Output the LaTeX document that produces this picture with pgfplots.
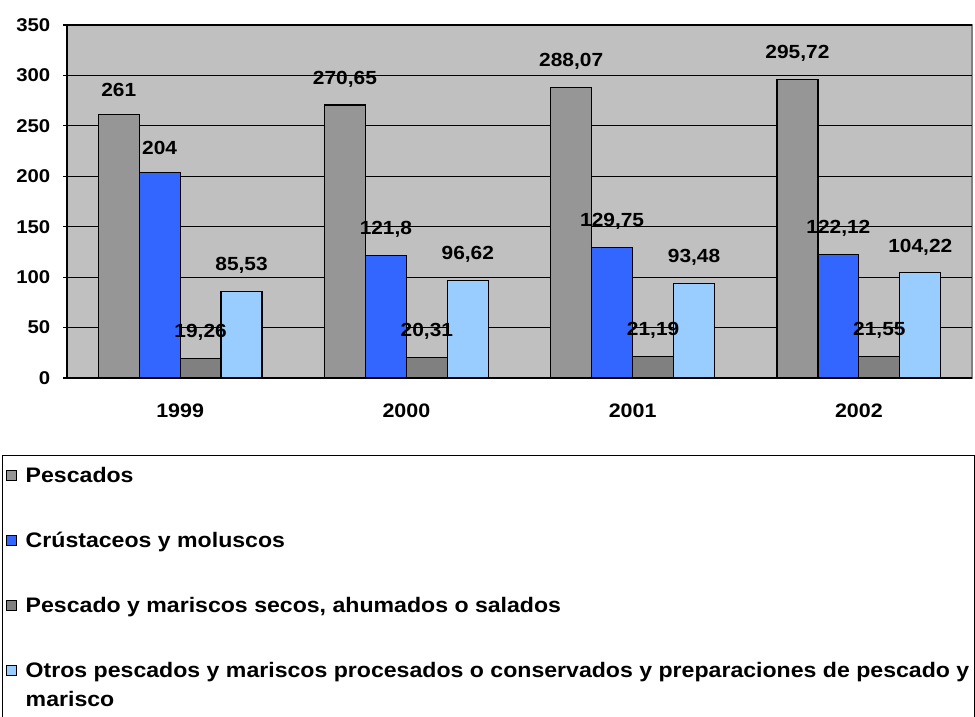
\documentclass[border=0pt]{standalone}
\usepackage{fontspec}
\setmainfont{Liberation Sans}[FakeStretch=1.1]
\usepackage{pgfplots}
\pgfplotsset{compat=1.18}
\definecolor{cPesc}{HTML}{969696}
\definecolor{cCrus}{HTML}{3366FF}
\definecolor{cSeco}{HTML}{808080}
\definecolor{cOtro}{HTML}{99CCFF}
\definecolor{cBg}{HTML}{C0C0C0}
\pgfplotsset{
  legsq/.style={legend image code/.code={\draw[##1, line width=1pt, draw=black] (0pt,-5pt) rectangle (10pt,5pt); \path (0pt,-44pt);}},
  legsqlast/.style={legend image code/.code={\draw[##1, line width=1pt, draw=black] (0pt,-5pt) rectangle (10pt,5pt);}}
}
\begin{document}
\begin{tikzpicture}
\begin{axis}[
  scale only axis, width=905pt, height=353pt,
  xmin=-0.5, xmax=3.5, ymin=0, ymax=350,
  ybar=0pt, bar width=0.181,
  ytick={0,50,...,350},
  yticklabels={0,50,100,150,200,250,300,350},
  xtick={0,1,2,3}, xticklabels={1999,2000,2001,2002},
  major x tick style={draw=none},
  extra x ticks={0.5,1.5,2.5}, extra x tick labels={},
  extra x tick style={major tick style={draw=black, line width=1.2pt}, major tick length=6pt},
  major tick length=7pt,
  tick style={black, line width=1.2pt},
  tick align=outside,
  axis lines=left, axis line style={-, line width=1.3pt, black},
  axis background/.style={fill=cBg, draw=cSeco, line width=1.5pt},
  ymajorgrids, grid style={black, line width=1.2pt},
  yticklabel style={font=\bfseries\fontsize{18.5}{20}\selectfont, anchor=east, inner xsep=2pt, xshift=-11pt},
  xticklabel style={font=\bfseries\fontsize{19.5}{21}\selectfont, yshift=-19pt},
  point meta=explicit symbolic,
  nodes near coords,
  nodes near coords style={font=\bfseries\fontsize{19}{20}\selectfont, anchor=south, yshift=14pt, black},
  legend style={at={(axis description cs:-0.0718,-0.218)}, anchor=north west,
    draw=black, line width=1.2pt, fill=white, inner xsep=3pt, inner ysep=12pt,
    row sep=12pt, font=\bfseries\fontsize{21}{28}\selectfont,
    nodes={inner ysep=0pt, inner xsep=2pt},
    /tikz/every odd column/.append style={column sep=7pt}},
  legend cell align=left,
]
\addplot[fill=cPesc, draw=black, line width=1.2pt, legsq] table[x=x, y=y, meta=l] {
x y l
0 261 261
1 270.65 270,65
2 288.07 288,07
3 295.72 295,72
};
\addlegendentry{Pescados}
\addplot[fill=cCrus, draw=black, line width=1.2pt, legsq] table[x=x, y=y, meta=l] {
x y l
0 204 204
1 121.8 121,8
2 129.75 129,75
3 122.12 122,12
};
\addlegendentry{Crústaceos y moluscos}
\addplot[fill=cSeco, draw=black, line width=1.2pt, legsq] table[x=x, y=y, meta=l] {
x y l
0 19.26 19,26
1 20.31 20,31
2 21.19 21,19
3 21.55 21,55
};
\addlegendentry{Pescado y mariscos secos, ahumados o salados}
\addplot[fill=cOtro, draw=black, line width=1.2pt, legsqlast] table[x=x, y=y, meta=l] {
x y l
0 85.53 85,53
1 96.62 96,62
2 93.48 93,48
3 104.22 104,22
};
\addlegendentry{Otros pescados y mariscos procesados o conservados y preparaciones de pescado y}
\addlegendimage{empty legend}
\addlegendentry{marisco}
\end{axis}
\pgfresetboundingbox
\path[use as bounding box] ([xshift=-67pt,yshift=-338pt]current axis.south west) rectangle ++(975pt,716pt);
\end{tikzpicture}
\end{document}
